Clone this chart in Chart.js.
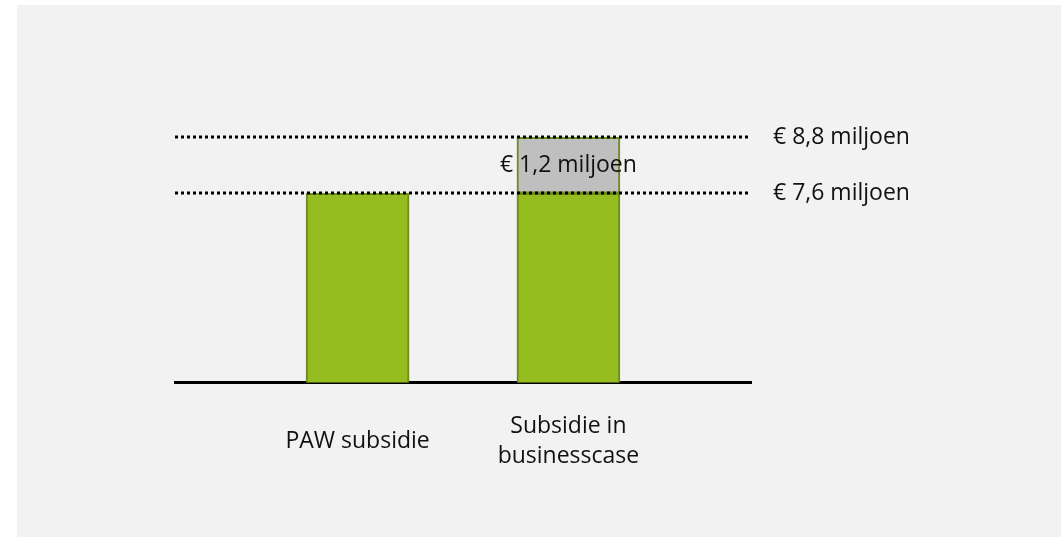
<!DOCTYPE html>
<html>
<head>
<meta charset="utf-8">
<script src="https://cdn.jsdelivr.net/npm/chart.js@4.4.1/dist/chart.umd.min.js"></script>
<style>
    html, body { margin: 0; padding: 0; background: #fff; }
    #panel { position: absolute; left: 17px; top: 5px; width: 1044px; height: 532px; background: #f2f2f2; }
</style>
</head>
<body>
<div id="panel"><canvas id="chart"></canvas></div>
<script>
const CATEGORIES = ['PAW subsidie', ['Subsidie in', 'businesscase']];
const BASE_VALUES = [7.6, 7.6];
const EXTRA_VALUES = [null, 1.2];
const EXTRA_LABELS = [null, '€ 1,2 miljoen'];
const REF_VALUES = [7.6, 8.8];
const REF_LABELS = ['€ 7,6 miljoen', '€ 8,8 miljoen'];

const FONT = { family: '"Open Sans", "Noto Sans", sans-serif', size: 23 };
const TEXT_COLOR = '#111';
const BORDER_GREEN = '#6c8b1c';

// dotted reference lines with their labels, plus the label inside the grey block
const refLines = {
    id: 'refLines',
    afterDatasetsDraw(chart) {
        const { ctx, chartArea, scales } = chart;
        ctx.save();
        ctx.strokeStyle = '#000';
        ctx.lineWidth = 3;
        ctx.setLineDash([3, 3]);
        ctx.font = `${FONT.size}px ${FONT.family}`;
        ctx.fillStyle = TEXT_COLOR;
        ctx.textBaseline = 'middle';
        REF_VALUES.forEach((v, i) => {
            const y = Math.round(scales.y.getPixelForValue(v));
            ctx.beginPath();
            ctx.moveTo(chartArea.left, y);
            ctx.lineTo(chartArea.right, y);
            ctx.stroke();
            ctx.textAlign = 'left';
            ctx.fillText(REF_LABELS[i], chartArea.right + 22, y);
        });

        const meta = chart.getDatasetMeta(1);
        ctx.textAlign = 'center';
        meta.data.forEach((el, i) => {
            if (!EXTRA_LABELS[i]) return;
            ctx.fillText(EXTRA_LABELS[i], el.x, (el.y + el.base) / 2);
        });
        ctx.restore();
    },
};

new Chart(document.getElementById('chart'), {
    type: 'bar',
    data: {
        datasets: [
            {
                label: 'Subsidie',
                data: BASE_VALUES.map((y, i) => ({ x: i, y })),
                backgroundColor: '#96bd1f',
                borderColor: BORDER_GREEN,
                borderWidth: 2,
                borderSkipped: false,
                barThickness: 103,
            },
            {
                label: 'Verschil',
                data: EXTRA_VALUES.map((y, i) => ({ x: i, y })),
                backgroundColor: '#bfbfbf',
                borderColor: BORDER_GREEN,
                borderWidth: 2,
                borderSkipped: false,
                barThickness: 103,
            },
        ],
    },
    options: {
        responsive: true,
        maintainAspectRatio: false,
        animation: false,
        layout: { padding: { left: 158, right: 310, top: 95, bottom: 54.5 } },
        scales: {
            x: {
                type: 'linear',
                stacked: true,
                offset: false,
                min: -0.866,
                max: 1.866,
                z: 1,
                grid: { display: false },
                border: { display: true, color: '#000', width: 3 },
                afterBuildTicks(scale) {
                    scale.ticks = CATEGORIES.map((_, i) => ({ value: i }));
                },
                afterFit(scale) {
                    scale.height = 100;
                },
                ticks: {
                    color: TEXT_COLOR,
                    font: { ...FONT, lineHeight: 1.3 },
                    padding: 36,
                    maxRotation: 0,
                    crossAlign: 'center',
                    callback(value) {
                        return CATEGORIES[value];
                    },
                },
            },
            y: {
                stacked: true,
                display: false,
                min: 3.54,
                max: 9.6,
            },
        },
        plugins: {
            legend: { display: false },
            tooltip: { enabled: false },
        },
    },
    plugins: [refLines],
});
</script>
</body>
</html>
